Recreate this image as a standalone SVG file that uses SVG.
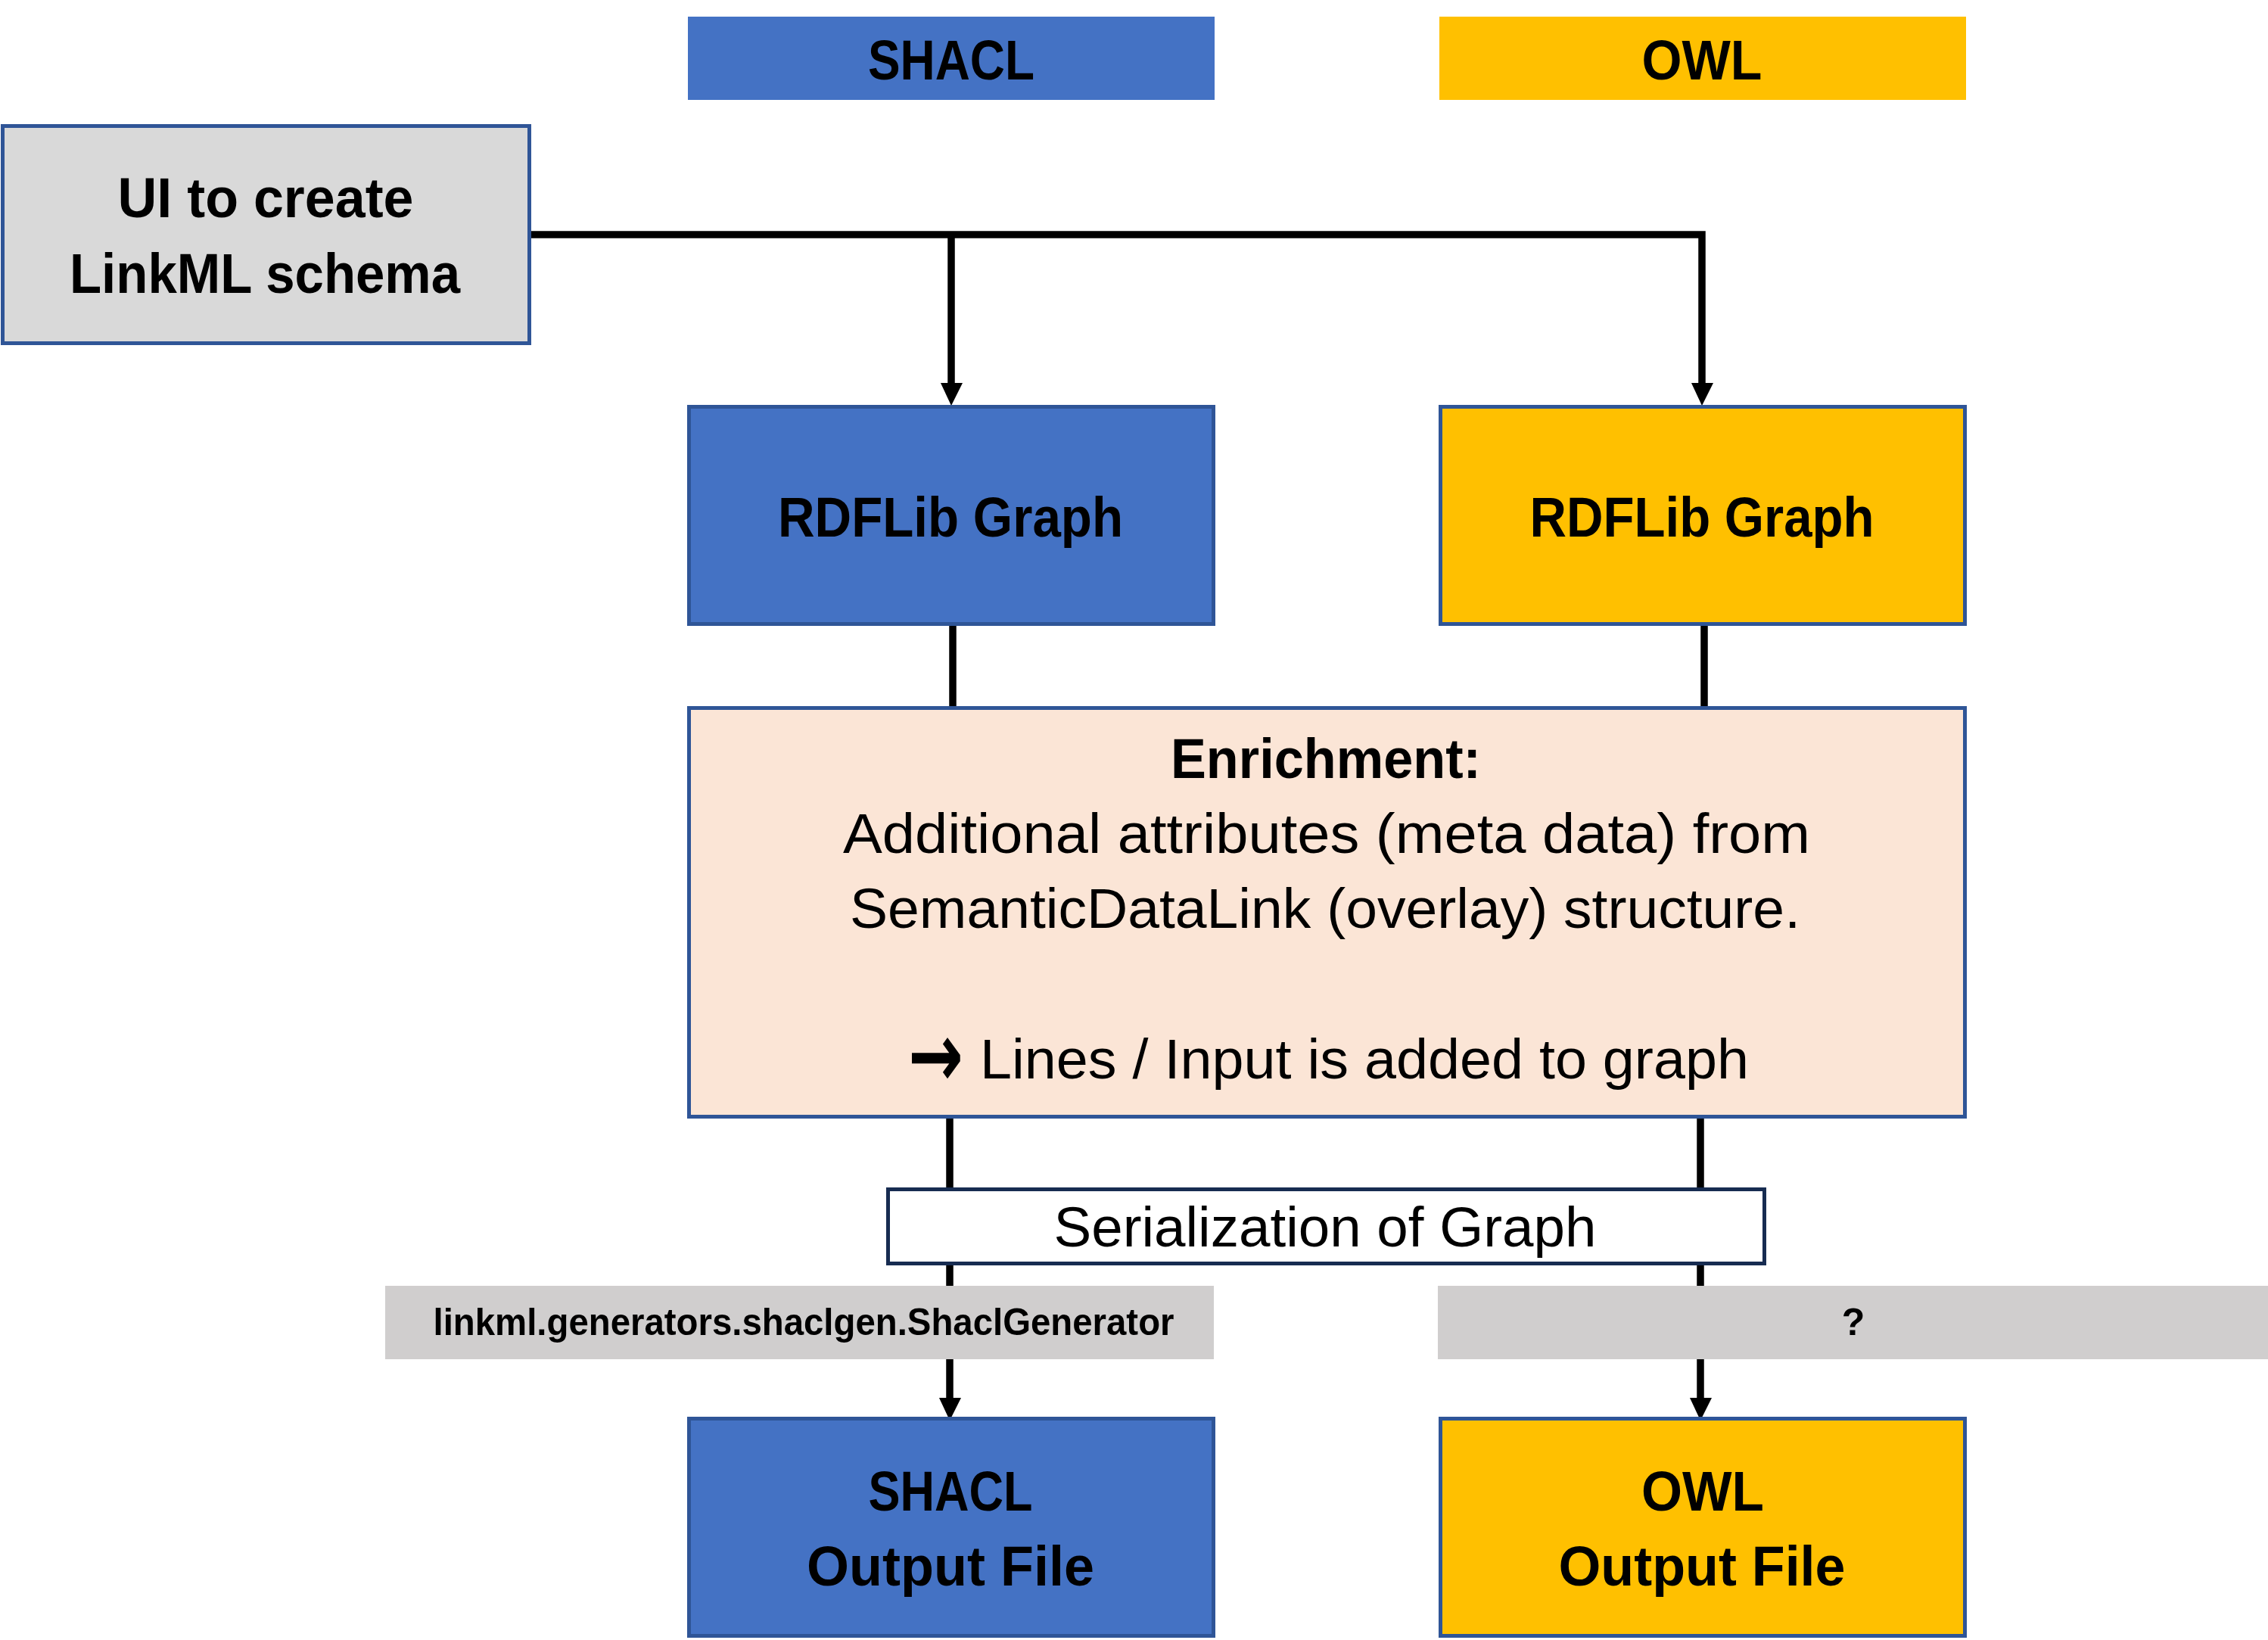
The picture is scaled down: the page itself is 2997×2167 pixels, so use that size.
<svg xmlns="http://www.w3.org/2000/svg" width="2997" height="2167" viewBox="0 0 2997 2167">
<style>
.t{font-family:"Liberation Sans",Arial,sans-serif;font-size:74px;fill:#000;text-anchor:middle}
.b{font-weight:bold}
.s{font-size:50px}
.bluebox{fill:#4472C4;stroke:#2F5597;stroke-width:5}
.yelbox{fill:#FFC000;stroke:#2F5597;stroke-width:5}
.conn{fill:none;stroke:#000;stroke-width:9.5}
.ah{fill:#000}
</style>

<g id="connectors">
<path class="conn" d="M702,310 H2249 V507"/>
<path class="conn" d="M1257,310 V507"/>
<polygon class="ah" points="1243,506 1272,506 1257,536"/>
<polygon class="ah" points="2235,506 2264,506 2249,536"/>
<path class="conn" d="M1259,827 V935"/>
<path class="conn" d="M2252,827 V935"/>
<path class="conn" d="M1255,1478 V1848"/>
<path class="conn" d="M2247,1478 V1848"/>
<polygon class="ah" points="1241,1847 1270,1847 1255,1877"/>
<polygon class="ah" points="2233,1847 2262,1847 2247,1877"/>
</g>

<g id="hdr-shacl">
<rect x="909" y="22" width="696" height="110" fill="#4472C4"/>
<text class="t b" x="1257" y="105" textLength="220" lengthAdjust="spacingAndGlyphs">SHACL</text>
</g>
<g id="hdr-owl">
<rect x="1902" y="22" width="696" height="110" fill="#FFC000"/>
<text class="t b" x="2249" y="105" textLength="159" lengthAdjust="spacingAndGlyphs">OWL</text>
</g>

<g id="ui">
<rect x="3.5" y="166.5" width="696" height="287" fill="#D9D9D9" stroke="#2F5597" stroke-width="5"/>
<text class="t b" x="351" y="287" textLength="391" lengthAdjust="spacingAndGlyphs">UI to create</text>
<text class="t b" x="350" y="387" textLength="516" lengthAdjust="spacingAndGlyphs">LinkML schema</text>
</g>

<g id="rdf-shacl">
<rect class="bluebox" x="910.5" y="537.5" width="693" height="287"/>
<text class="t b" x="1256" y="709" textLength="456" lengthAdjust="spacingAndGlyphs">RDFLib Graph</text>
</g>
<g id="rdf-owl">
<rect class="yelbox" x="1903.5" y="537.5" width="693" height="287"/>
<text class="t b" x="2249" y="709" textLength="455" lengthAdjust="spacingAndGlyphs">RDFLib Graph</text>
</g>

<g id="enrichment">
<rect x="910.5" y="935.5" width="1686" height="540" fill="#FBE5D6" stroke="#2F5597" stroke-width="5"/>
<text class="t b" x="1752" y="1028" textLength="410" lengthAdjust="spacingAndGlyphs">Enrichment:</text>
<text class="t" x="1753" y="1127" textLength="1278" lengthAdjust="spacingAndGlyphs">Additional attributes (meta data) from</text>
<text class="t" x="1751" y="1226" textLength="1256" lengthAdjust="spacingAndGlyphs">SemanticDataLink (overlay) structure.</text>
<text x="1200" y="1436" font-family="DejaVu Sans, sans-serif" font-size="120" font-weight="bold" textLength="73" lengthAdjust="spacingAndGlyphs">→</text>
<text class="t" x="1803" y="1425" textLength="1016" lengthAdjust="spacingAndGlyphs">Lines / Input is added to graph</text>
</g>

<g id="serialization">
<rect x="1173.5" y="1571.5" width="1158" height="98" fill="#FFFFFF" stroke="#172C51" stroke-width="5"/>
<text class="t" x="1751" y="1647" textLength="717" lengthAdjust="spacingAndGlyphs">Serialization of Graph</text>
</g>

<g id="gen-shacl">
<rect x="509" y="1699" width="1095" height="97" fill="#D0CECE"/>
<text class="t b s" x="1062" y="1764" textLength="979" lengthAdjust="spacingAndGlyphs">linkml.generators.shaclgen.ShaclGenerator</text>
</g>
<g id="gen-owl">
<rect x="1900" y="1699" width="1097" height="97" fill="#D0CECE"/>
<text class="t b s" x="2449" y="1764">?</text>
</g>

<g id="out-shacl">
<rect class="bluebox" x="910.5" y="1874.5" width="693" height="287"/>
<text class="t b" x="1256" y="1996" textLength="217" lengthAdjust="spacingAndGlyphs">SHACL</text>
<text class="t b" x="1256" y="2095" textLength="380" lengthAdjust="spacingAndGlyphs">Output File</text>
</g>
<g id="out-owl">
<rect class="yelbox" x="1903.5" y="1874.5" width="693" height="287"/>
<text class="t b" x="2250" y="1996" textLength="162" lengthAdjust="spacingAndGlyphs">OWL</text>
<text class="t b" x="2249" y="2095" textLength="379" lengthAdjust="spacingAndGlyphs">Output File</text>
</g>
</svg>
